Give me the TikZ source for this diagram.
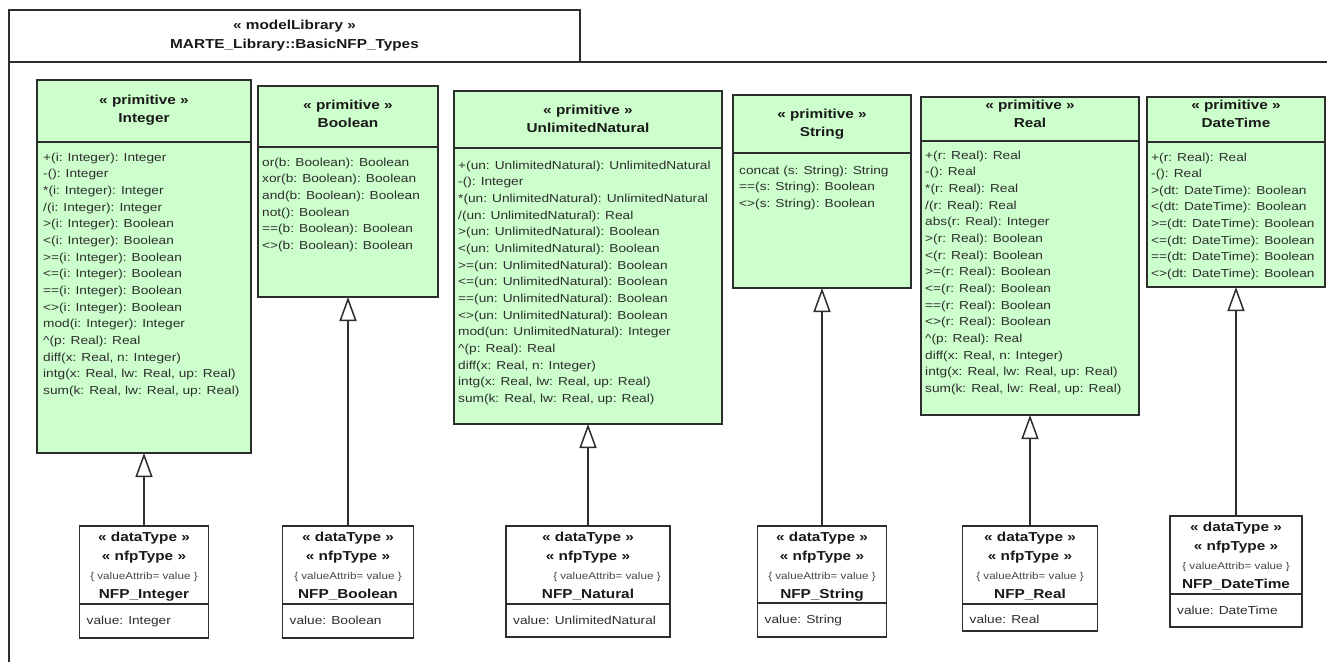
\documentclass[tikz,border=0pt]{standalone}
\usepackage{fontspec}
\setmainfont[FakeStretch=1.18]{Liberation Sans}
\usetikzlibrary{arrows.meta,positioning}
\definecolor{primfill}{RGB}{204,255,204}
\definecolor{umlline}{RGB}{45,45,45}
\newcommand{\valattr}{{\fontsize{9.9}{19}\selectfont\mdseries\color{black!72}\{ valueAttrib= value \}}}

\begin{document}
\begin{tikzpicture}[x=1pt, y=-1pt,
    prim/.style={draw=umlline, fill=primfill, line width=1.5pt, rectangle, anchor=north west, outer sep=0pt, inner sep=0pt},
    nfp/.style={draw=umlline, fill=white, line width=1.5pt, rectangle, anchor=north west, outer sep=0pt, inner sep=0pt},
    hd/.style={align=center, inner sep=0pt, font=\fontsize{13}{18}\selectfont\bfseries, text=black!90},
    nfphd/.style={align=center, inner sep=0pt, font=\fontsize{13}{19}\selectfont\bfseries, text=black!90},
    ops/.style={align=left, inner sep=0pt, font=\fontsize{11.6}{16.65}\selectfont, text=black!82},
    div/.style={draw=umlline, line width=1.5pt},
    gen/.style={draw=umlline, line width=1.5pt, -{Triangle[open, length=24pt, width=17pt]}}]
    \useasboundingbox (0,0) rectangle (1327,662);

    \node[draw=umlline, line width=1.5pt, rectangle, anchor=north west, outer sep=0pt, inner sep=0pt, minimum width=571pt, minimum height=52pt] (pkgtab) at (9,10) {};
    \node[nfphd, below=9.8pt of pkgtab.north] (pkgname) {« modelLibrary »\\MARTE\_Library::BasicNFP\_Types};
    \draw[div] (9,662) -- (pkgtab.south west) -- (1327,62);

    \node[prim, minimum width=214pt, minimum height=373pt] (int) at (37,80) {};
    \node[hd, below=15.2pt of int.north] (inthd) {« primitive »\\Integer};
    \draw[div] ([yshift=-62pt]int.north west) -- ([yshift=-62pt]int.north east);
    \node[ops, below right=72.7pt and 6pt of int.north west] (intops) {+(i: Integer): Integer\\-(): Integer\\{}*(i: Integer): Integer\\/(i: Integer): Integer\\>(i: Integer): Boolean\\<(i: Integer): Boolean\\>=(i: Integer): Boolean\\<=(i: Integer): Boolean\\==(i: Integer): Boolean\\<>(i: Integer): Boolean\\mod(i: Integer): Integer\\\textasciicircum(p: Real): Real\\diff(x: Real, n: Integer)\\intg(x: Real, lw: Real, up: Real)\\sum(k: Real, lw: Real, up: Real)};

    \node[prim, minimum width=180pt, minimum height=211pt] (bool) at (258,86) {};
    \node[hd, below=14.2pt of bool.north] (boolhd) {« primitive »\\Boolean};
    \draw[div] ([yshift=-61pt]bool.north west) -- ([yshift=-61pt]bool.north east);
    \node[ops, below right=71.7pt and 4pt of bool.north west] (boolops) {or(b: Boolean): Boolean\\xor(b: Boolean): Boolean\\and(b: Boolean): Boolean\\not(): Boolean\\==(b: Boolean): Boolean\\<>(b: Boolean): Boolean};

    \node[prim, minimum width=268pt, minimum height=333pt] (un) at (454,91) {};
    \node[hd, below=14.2pt of un.north] (unhd) {« primitive »\\UnlimitedNatural};
    \draw[div] ([yshift=-57pt]un.north west) -- ([yshift=-57pt]un.north east);
    \node[ops, below right=69.7pt and 4pt of un.north west] (unops) {+(un: UnlimitedNatural): UnlimitedNatural\\-(): Integer\\{}*(un: UnlimitedNatural): UnlimitedNatural\\/(un: UnlimitedNatural): Real\\>(un: UnlimitedNatural): Boolean\\<(un: UnlimitedNatural): Boolean\\>=(un: UnlimitedNatural): Boolean\\<=(un: UnlimitedNatural): Boolean\\==(un: UnlimitedNatural): Boolean\\<>(un: UnlimitedNatural): Boolean\\mod(un: UnlimitedNatural): Integer\\\textasciicircum(p: Real): Real\\diff(x: Real, n: Integer)\\intg(x: Real, lw: Real, up: Real)\\sum(k: Real, lw: Real, up: Real)};

    \node[prim, minimum width=178pt, minimum height=193pt] (str) at (733,95) {};
    \node[hd, below=14.2pt of str.north] (strhd) {« primitive »\\String};
    \draw[div] ([yshift=-58pt]str.north west) -- ([yshift=-58pt]str.north east);
    \node[ops, below right=70.7pt and 6pt of str.north west] (strops) {concat (s: String): String\\==(s: String): Boolean\\<>(s: String): Boolean};

    \node[prim, minimum width=218pt, minimum height=318pt] (real) at (921,97) {};
    \node[hd, below=2.5pt of real.north] (realhd) {« primitive »\\Real};
    \draw[div] ([yshift=-44pt]real.north west) -- ([yshift=-44pt]real.north east);
    \node[ops, below right=53.7pt and 4pt of real.north west] (realops) {+(r: Real): Real\\-(): Real\\{}*(r: Real): Real\\/(r: Real): Real\\abs(r: Real): Integer\\>(r: Real): Boolean\\<(r: Real): Boolean\\>=(r: Real): Boolean\\<=(r: Real): Boolean\\==(r: Real): Boolean\\<>(r: Real): Boolean\\\textasciicircum(p: Real): Real\\diff(x: Real, n: Integer)\\intg(x: Real, lw: Real, up: Real)\\sum(k: Real, lw: Real, up: Real)};

    \node[prim, minimum width=178pt, minimum height=190pt] (dt) at (1147,97) {};
    \node[hd, below=2.5pt of dt.north] (dthd) {« primitive »\\DateTime};
    \draw[div] ([yshift=-45pt]dt.north west) -- ([yshift=-45pt]dt.north east);
    \node[ops, below right=55.4pt and 4pt of dt.north west] (dtops) {+(r: Real): Real\\-(): Real\\>(dt: DateTime): Boolean\\<(dt: DateTime): Boolean\\>=(dt: DateTime): Boolean\\<=(dt: DateTime): Boolean\\==(dt: DateTime): Boolean\\<>(dt: DateTime): Boolean};

    \node[nfp, minimum width=129pt, minimum height=112pt] (nfpint) at (79.5,526) {};
    \node[nfphd, below=5.4pt of nfpint.north] (nfpinthd) {« dataType »\\« nfpType »\\\valattr\\NFP\_Integer};
    \draw[div] ([yshift=-78pt]nfpint.north west) -- ([yshift=-78pt]nfpint.north east);
    \node[ops, below right=89.7pt and 7pt of nfpint.north west] (nfpintval) {value: Integer};

    \node[nfp, minimum width=131pt, minimum height=112pt] (nfpbool) at (282.5,526) {};
    \node[nfphd, below=5.4pt of nfpbool.north] (nfpboolhd) {« dataType »\\« nfpType »\\\valattr\\NFP\_Boolean};
    \draw[div] ([yshift=-78pt]nfpbool.north west) -- ([yshift=-78pt]nfpbool.north east);
    \node[ops, below right=89.7pt and 7pt of nfpbool.north west] (nfpboolval) {value: Boolean};

    \node[nfp, minimum width=164pt, minimum height=111pt] (nfpnat) at (506,526) {};
    \node[nfphd, below=5.4pt of nfpnat.north] (nfpnathd) {« dataType »\\« nfpType »\\\hspace*{38pt}\valattr\\NFP\_Natural};
    \draw[div] ([yshift=-78pt]nfpnat.north west) -- ([yshift=-78pt]nfpnat.north east);
    \node[ops, below right=89.7pt and 7pt of nfpnat.north west] (nfpnatval) {value: UnlimitedNatural};

    \node[nfp, minimum width=129pt, minimum height=111pt] (nfpstr) at (757.5,526) {};
    \node[nfphd, below=5.4pt of nfpstr.north] (nfpstrhd) {« dataType »\\« nfpType »\\\valattr\\NFP\_String};
    \draw[div] ([yshift=-77pt]nfpstr.north west) -- ([yshift=-77pt]nfpstr.north east);
    \node[ops, below right=88.7pt and 7pt of nfpstr.north west] (nfpstrval) {value: String};

    \node[nfp, minimum width=135pt, minimum height=105pt] (nfpreal) at (962.5,526) {};
    \node[nfphd, below=5.4pt of nfpreal.north] (nfprealhd) {« dataType »\\« nfpType »\\\valattr\\NFP\_Real};
    \draw[div] ([yshift=-78pt]nfpreal.north west) -- ([yshift=-78pt]nfpreal.north east);
    \node[ops, below right=88.7pt and 7pt of nfpreal.north west] (nfprealval) {value: Real};

    \node[nfp, minimum width=132pt, minimum height=111pt] (nfpdt) at (1170,516) {};
    \node[nfphd, below=5.4pt of nfpdt.north] (nfpdthd) {« dataType »\\« nfpType »\\\valattr\\NFP\_DateTime};
    \draw[div] ([yshift=-78pt]nfpdt.north west) -- ([yshift=-78pt]nfpdt.north east);
    \node[ops, below right=89.7pt and 7pt of nfpdt.north west] (nfpdtval) {value: DateTime};

    \draw[gen] (nfpint.north) -- (int.south);
    \draw[gen] (nfpbool.north) -- (bool.south);
    \draw[gen] (nfpnat.north) -- (un.south);
    \draw[gen] (nfpstr.north) -- (str.south);
    \draw[gen] (nfpreal.north) -- (real.south);
    \draw[gen] (nfpdt.north) -- (dt.south);
\end{tikzpicture}
\end{document}
